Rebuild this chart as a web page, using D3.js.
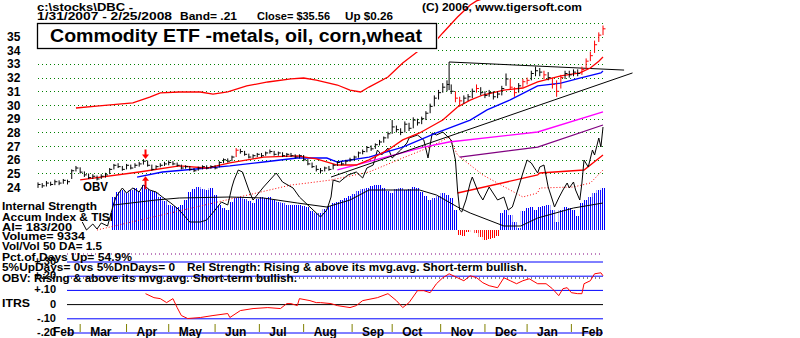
<!DOCTYPE html>
<html>
<head>
<meta charset="utf-8">
<script src="https://d3js.org/d3.v7.min.js"></script>
<style>
  body { margin: 0; background: #fff; }
  svg text { font-family: "Liberation Sans", Arial, sans-serif; font-weight: bold; }
</style>
</head>
<body>
<div id="chart"></div>
<script>
// ---- data (trading-day index 0 = 1/31/2007, 268 = 2/25/2008) ----
const barStep = 2;
const cl = [24.2,24.1,24.3,24.2,24.4,24.3,24.5,24.4,25.2,25.4,25.1,24.9,24.7,24.8,24.6,24.8,24.9,25.3,25.6,25.5,
  25.3,25.6,25.4,25.6,25.7,25.9,25.6,25.3,25.5,25.6,25.7,25.8,25.7,25.6,25.4,25.5,25.3,25.2,25.4,25.5,
  25.4,25.5,25.4,25.8,26.0,25.9,26.2,26.7,26.6,26.4,26.2,26.3,26.4,26.3,26.5,26.6,26.4,26.5,26.3,26.4,
  26.3,26.2,26.3,26.0,25.7,25.5,25.3,25.2,25.4,25.3,25.6,25.8,25.7,25.9,26.0,26.2,26.5,26.6,26.9,26.8,
  27.1,27.3,27.6,27.9,28.4,28.2,28.0,28.6,28.3,28.9,28.7,29.0,29.4,29.9,30.5,30.9,31.3,31.5,31.0,30.5,
  30.3,30.5,30.6,31.0,31.2,30.9,30.7,30.9,30.6,30.8,31.2,31.9,31.3,30.9,31.4,31.7,31.8,32.3,32.5,32.4,
  32.2,32.0,31.5,31.0,32.0,32.3,32.2,32.4,32.3,32.6,33.2,33.6,34.4,35.1,35.56];
const hi = [24.35,24.3,24.45,24.4,24.55,24.5,24.6,24.55,25.3,25.55,25.45,25.15,25.0,24.95,24.85,24.95,25.05,25.4,25.7,25.75,
  25.55,25.7,25.65,25.75,25.85,26.05,25.95,25.65,25.6,25.75,25.85,25.95,25.9,25.8,25.65,25.6,25.55,25.4,25.5,25.6,
  25.6,25.6,25.6,25.9,26.1,26.1,26.3,26.85,26.8,26.65,26.45,26.4,26.5,26.5,26.6,26.75,26.65,26.6,26.55,26.5,
  26.5,26.4,26.4,26.35,26.05,25.8,25.6,25.4,25.5,25.55,25.7,25.9,25.9,26.0,26.15,26.3,26.6,26.75,27.0,27.05,
  27.2,27.45,27.7,28.05,28.9,28.5,28.3,28.8,28.7,29.1,29.0,29.15,29.55,30.1,30.7,31.1,31.6,31.8,31.5,31.0,
  30.6,30.7,30.8,31.2,31.5,31.3,31.0,31.1,31.0,31.0,31.4,32.3,31.9,31.3,31.6,31.9,32.0,32.5,32.8,32.7,
  32.5,32.4,32.0,31.8,32.2,32.5,32.5,32.6,32.6,32.8,33.4,33.9,34.7,35.3,35.8];
const lo = [23.95,23.95,24.05,24.1,24.15,24.15,24.25,24.2,24.6,25.15,25.0,24.75,24.6,24.6,24.5,24.6,24.7,24.95,25.3,25.4,
  25.2,25.3,25.3,25.4,25.5,25.65,25.5,25.2,25.3,25.45,25.55,25.6,25.6,25.5,25.3,25.35,25.2,25.1,25.2,25.3,
  25.3,25.35,25.3,25.45,25.75,25.8,25.9,26.2,26.45,26.3,26.1,26.1,26.2,26.2,26.3,26.45,26.3,26.3,26.2,26.2,
  26.2,26.1,26.1,25.9,25.6,25.4,25.15,25.0,25.15,25.2,25.3,25.55,25.6,25.65,25.85,25.95,26.15,26.4,26.55,26.65,
  26.8,27.05,27.25,27.55,27.9,28.0,27.8,28.0,28.1,28.3,28.5,28.6,28.9,29.4,29.9,30.4,30.9,31.0,30.8,30.2,
  29.9,30.1,30.3,30.5,30.9,30.7,30.5,30.6,30.4,30.5,30.7,31.4,31.1,30.6,30.9,31.3,31.5,31.8,32.1,32.1,
  31.9,31.8,31.2,30.6,31.2,31.9,32.0,32.1,32.1,32.2,32.6,33.2,33.8,34.6,35.1];
const redBars = [47, 99, 100, 104, 112, 113, 115, 116, 120, 122, 123, 124, 129, 130, 131, 132, 133, 134];

// moving averages and bands: [day, price]
const ma21 = [[20,24.53],[48,25.11],[67,25.55],[80,25.4],[91,25.77],[107,26.2],[123,26.28],[132,26.06],[142,25.62],
  [151,25.62],[157,25.99],[166,26.72],[173,27.45],[181,27.96],[192,28.9],[199,29.85],[205,30.36],[211,30.73],
  [221,31.09],[230,31.24],[237,31.68],[248,32.12],[257,32.34],[262,32.7],[266,33.2],[268,33.5]];
const ma50 = [[47,24.74],[59,25.11],[75,25.33],[91,25.55],[107,25.84],[123,26.13],[137,26.13],[142,25.84],
  [157,26.2],[173,26.93],[189,27.96],[205,28.9],[213,29.64],[224,30.37],[237,31.4],[248,31.6],[257,31.97],
  [267,32.34],[268,32.48]];
const upperBand = [[18,29.78],[29,29.93],[45,30.15],[53,30.58],[58,30.88],[67,30.95],[77,30.95],[83,30.8],
  [90,30.95],[99,31.39],[109,31.68],[120,31.9],[126,31.97],[132,31.82],[142,31.46],[148,31.09],[153,30.95],
  [157,31.31],[166,32.04],[173,33.07],[181,34.01],[187,34.38],[192,35.26],[199,36.42],[205,37.3],[208,37.6],[214,37.9]];
const trendLow = [[139,24.74],[282,32.34]];
const trendTop = [[195,31.09],[195,33.14],[278,32.55]];
const magentaLine = [[142,25.26],[183,26.93],[195,27.3],[237,28.03],[268,29.49]];
const purpleLine = [[200,26.2],[237,26.93],[268,28.54]];
const arrows = [{day: 51, from: 26.75, to: 26.05}, {day: 51, from: 23.85, to: 24.8}];

// OBV and Accum Index panel (relative units)
const obv = [[21,8],[23,0],[26,6],[28,1],[30,7],[33,4],[36,27],[37,33],[40,42],[42,37],[45,42],[48,38],[50,45],
  [53,40],[56,38],[59,33],[63,27],[67,20],[72,8],[77,8],[80,10],[84,20],[87,28],[90,25],[92,43],[93,50],[95,60],
  [97,58],[100,40],[102,30],[107,43],[110,50],[113,57],[116,48],[121,42],[124,33],[129,23],[134,13],[137,20],
  [139,33],[140,50],[143,48],[147,55],[151,58],[154,52],[156,62],[159,65],[161,80],[163,75],[166,82],[168,72],
  [172,80],[175,87],[176,92],[180,95],[183,90],[185,72],[186,85],[187,97],[189,95],[192,98],[194,94],[196,90],
  [198,70],[199,40],[200,20],[201,18],[203,30],[205,47],[206,53],[209,37],[211,30],[214,43],[218,30],[221,33],
  [223,20],[225,23],[228,43],[230,57],[232,70],[234,67],[237,57],[238,63],[240,65],[242,43],[244,30],[245,23],
  [247,32],[249,40],[251,47],[252,42],[254,48],[255,40],[257,30],[258,47],[259,70],[261,63],[263,80],[264,75],
  [266,92],[267,83],[268,103]];
const obvMaDotted = [[28,0],[120,45],[128,47],[139,50],[157,58],[173,72],[186,83],[195,93],[199,75],[211,55],
  [230,33],[237,37],[238,42],[254,43],[262,47],[268,60]];
const obvMaRed = [[199,37],[237,55],[238,57],[259,60],[268,75]];
const aiStart = 18;
const ai = [33,38,40,37,40,42,38,45,41,39,38,33,29,25,24,23,25,30,38,41,
  43,41,40,42,35,25,22,20,28,32,33,31,29,27,31,33,32,33,30,28,
  27,25,25,25,25,24,23,19,17,17,21,24,27,28,30,32,34,36,39,41,
  42,44,45,45,42,39,37,41,42,40,41,43,42,38,34,30,32,34,37,35,
  32,20,-5,-6,-2,0,-3,-7,-10,-9,-8,-6,17,20,15,8,2,19,22,23,
  20,23,24,25,20,8,20,23,22,20,14,27,30,33,37,40,42];
const aiMa = [[36,25],[56,30],[67,32],[91,33],[107,32],[123,27],[137,23],[148,30],[157,40],[181,40],[189,35],
  [199,23],[205,17],[221,4],[229,4],[237,12],[254,22],[268,27]];

// ITRS: [day, value]
const itrs = [[51,0.077],[55,0.049],[58,0.042],[61,0.014],[64,0.042],[66,-0.021],[68,-0.077],[71,-0.098],
  [77,-0.091],[83,-0.077],[90,-0.063],[91,-0.091],[96,-0.042],[102,-0.028],[109,-0.021],[115,-0.028],[118,0.007],
  [120,0.007],[123,-0.007],[124,0.042],[129,0.028],[132,0.014],[134,0.014],[139,0.007],[142,-0.007],[148,-0.021],
  [151,-0.007],[154,0.028],[161,0.049],[166,0.077],[170,0.028],[173,-0.021],[176,0.014],[180,0.098],[183,0.098],
  [186,0.084],[189,0.147],[192,0.189],[195,0.217],[199,0.189],[202,0.168],[205,0.203],[208,0.19],[211,0.154],
  [214,0.133],[218,0.119],[221,0.189],[224,0.168],[227,0.147],[230,0.168],[233,0.182],[237,0.147],[241,0.147],
  [244,0.112],[247,0.063],[249,0.112],[251,0.119],[253,0.084],[256,0.077],[258,0.077],[259,0.147],[262,0.168],
  [264,0.217],[267,0.224],[268,0.203]];

const priceTicks = [24,25,26,27,28,29,30,31,32,33,34,35];
const gridPrices = [25,26,27,28,29,30,31,32,33,34,35,36];
const itrsBlue = [0.3, 0.2, 0.1, -0.1, -0.2];
const itrsLabels = [["+.30",0.3],["+.20",0.2],["+.10",0.1],["0",0],["-.10",-0.1],["-.20",-0.2]];
const monthStart = [0,20,42,62,84,105,126,149,168,191,212,232,253];
const monthName = ["Feb","Mar","Apr","May","Jun","Jul","Aug","Sep","Oct","Nov","Dec","Jan","Feb"];

// ---- drawing ----
const svg = d3.select("#chart").append("svg").attr("width", 800).attr("height", 338);

const x = d3.scaleLinear().domain([0, 268]).range([38, 603]);
const y = d3.scaleLinear().domain([24, 35]).range([187.2, 36.5]);
const yA = d3.scaleLinear().domain([0, 100]).range([230, 130]);
const yI = d3.scaleLinear().domain([-0.2, 0.3]).range([333, 262]);

// striped fills like the histogram of the original
const defs = svg.append("defs");
[["stripeBlue", "#0000ff"], ["stripeRed", "#ff0000"]].forEach(([id, c]) => {
  const p = defs.append("pattern").attr("id", id).attr("patternUnits", "userSpaceOnUse")
    .attr("width", 2).attr("height", 4);
  p.append("rect").attr("width", 1).attr("height", 4).attr("fill", c);
});

// price grid
svg.append("g").selectAll("line").data(gridPrices).join("line")
  .attr("x1", 38).attr("x2", 605).attr("y1", d => Math.round(y(d)) + 0.5).attr("y2", d => Math.round(y(d)) + 0.5)
  .attr("stroke", "#008000").attr("stroke-dasharray", "1,3");

svg.append("g").selectAll("text").data(priceTicks).join("text")
  .attr("x", 7).attr("y", d => y(d) + 4.5).attr("font-size", 12).text(d => d);

// histogram
const step = x(barStep) - x(0);
const aiData = ai.map((v, j) => ({ day: (aiStart + j) * barStep, v }));
svg.append("g").selectAll("rect").data(aiData).join("rect")
  .attr("x", d => x(d.day) - step / 2)
  .attr("width", step)
  .attr("y", d => d.v >= 0 ? yA(d.v) : yA(0))
  .attr("height", d => Math.abs(yA(d.v) - yA(0)))
  .attr("fill", d => d.v >= 0 ? "url(#stripeBlue)" : "url(#stripeRed)");

const line = (sy) => d3.line().x(d => x(d[0])).y(d => sy(d[1]));

function path(data, sy, color, w, dash) {
  svg.append("path").datum(data).attr("d", line(sy))
    .attr("fill", "none").attr("stroke", color).attr("stroke-width", w || 1)
    .attr("stroke-dasharray", dash || null);
}

path(obvMaDotted, yA, "#ff0000", 1, "1,2");
path(obvMaRed, yA, "#ff0000", 1.3);
path(aiMa, yA, "#000", 1);
path(obv, yA, "#000", 1);

// price lines
path(upperBand, y, "#ff0000", 1.3);
path(purpleLine, y, "#800080", 1.3);
path(magentaLine, y, "#ff00ff", 1.3);
path(trendLow, y, "#000", 1);
path(trendTop, y, "#000", 1);
path(ma50, y, "#0000ff", 1.3);
path(ma21, y, "#ff0000", 1.3);

// OHLC bars
const bars = cl.map((c, k) => ({ day: k * barStep, c, h: hi[k], l: lo[k], red: redBars.includes(k) }));
const gb = svg.append("g");
gb.selectAll("line.v").data(bars).join("line").attr("class", "v")
  .attr("x1", d => x(d.day)).attr("x2", d => x(d.day))
  .attr("y1", d => y(d.h)).attr("y2", d => y(d.l))
  .attr("stroke", d => d.red ? "#ff0000" : "#000").attr("stroke-width", 1);
gb.selectAll("line.c").data(bars).join("line").attr("class", "c")
  .attr("x1", d => x(d.day)).attr("x2", d => x(d.day) + 2.5)
  .attr("y1", d => y(d.c)).attr("y2", d => y(d.c))
  .attr("stroke", d => d.red ? "#ff0000" : "#000").attr("stroke-width", 1);

// arrows
arrows.forEach(a => {
  const xa = x(a.day), y0 = y(a.from), y1 = y(a.to);
  const dir = y1 > y0 ? 1 : -1;
  svg.append("line").attr("x1", xa).attr("x2", xa).attr("y1", y0).attr("y2", y1 - dir * 4)
    .attr("stroke", "#ff0000").attr("stroke-width", 2);
  svg.append("path").attr("d", `M${xa - 3.5},${y1 - dir * 4.5}L${xa + 3.5},${y1 - dir * 4.5}L${xa},${y1}Z`)
    .attr("fill", "#ff0000");
});

// title box
svg.append("rect").attr("x", 36).attr("y", 22).attr("width", 402).attr("height", 30).attr("fill", "#fff");
svg.append("rect").attr("x", 37.5).attr("y", 23.5).attr("width", 399).attr("height", 25)
  .attr("fill", "none").attr("stroke", "#000").attr("stroke-width", 1.3);

function txt(s, tx, ty, size, len, anchor) {
  const t = svg.append("text").attr("x", tx).attr("y", ty).attr("font-size", size).text(s);
  if (len) t.attr("textLength", len).attr("lengthAdjust", "spacingAndGlyphs");
  if (anchor) t.attr("text-anchor", anchor);
  return t;
}

txt("Commodity ETF -metals, oil, corn,wheat", 50, 42, 19, 372);
txt("c:\\stocks\\DBC  -", 37, 11, 11, 96);
txt("1/31/2007 - 2/25/2008", 37, 20, 11, 135);
txt("Band= .21", 180, 20, 11, 57);
txt("Close= $35.56", 257, 20, 11, 73);
txt("Up $0.26", 345, 20, 11, 48);
txt("(C) 2006, www.tigersoft.com", 422, 11, 11, 160);
txt("OBV", 83, 191, 13, 25);

// ITRS panel
svg.append("g").selectAll("line").data(itrsBlue).join("line")
  .attr("x1", 67).attr("x2", 603).attr("y1", d => yI(d)).attr("y2", d => yI(d))
  .attr("stroke", "#0000ff");
svg.append("line").attr("x1", 67).attr("x2", 603).attr("y1", yI(0)).attr("y2", yI(0)).attr("stroke", "#000");
svg.append("line").attr("x1", 67).attr("x2", 603).attr("y1", 254).attr("y2", 254)
  .attr("stroke", "#800080").attr("stroke-dasharray", "1,3");
svg.append("line").attr("x1", 67).attr("x2", 603).attr("y1", 278).attr("y2", 278)
  .attr("stroke", "#000").attr("stroke-dasharray", "1,3");
path(itrs, yI, "#ff0000", 1);

// left texts
txt("Internal Strength", 2, 210, 11, 95);
txt("Accum Index & TISI", 2, 221, 11, 111);
txt("AI= 183/200", 2, 231, 11, 70);
txt("Volume= 9334", 2, 240, 11, 83);
txt("Vol/Vol 50 DA= 1.5", 2, 250, 11, 100);
txt("Pct.of Days Up= 54.9%", 2, 261, 11, 130);
txt("5%UpDays= 0vs 5%DnDays= 0", 2, 271, 11, 173);
txt("Rel Strength: Rising & above its mvg.avg. Short-term bullish.", 187, 271, 11, 340);
txt("OBV: Rising & above its mvg.avg. Short-term bullish.", 2, 282, 11, 295);
txt("ITRS", 2, 307, 11, 28);
itrsLabels.forEach(d => txt(d[0], 56, yI(d[1]) + 3, 11, null, "end"));

// months
svg.append("g").selectAll("line").data(monthStart.slice(1)).join("line")
  .attr("x1", d => x(d)).attr("x2", d => x(d)).attr("y1", 324).attr("y2", 332)
  .attr("stroke", "#808000");
svg.append("g").selectAll("text").data(monthStart).join("text")
  .attr("x", (d, i) => x(d) + (i === 0 ? 15 : 10)).attr("y", 336).attr("font-size", 12)
  .text((d, i) => monthName[i]);
</script>
</body>
</html>
